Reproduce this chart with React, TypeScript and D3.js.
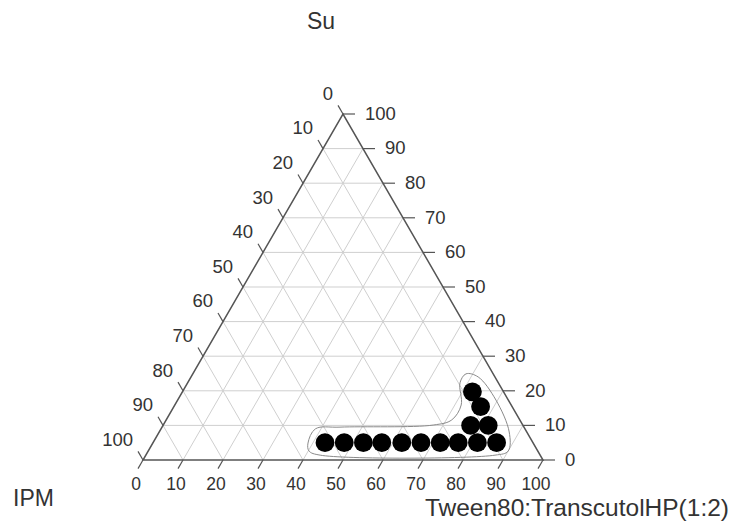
import { useEffect, useRef } from "react";
import * as d3 from "d3";

const TICKS = [0, 10, 20, 30, 40, 50, 60, 70, 80, 90, 100];

// observed points (Su %, Tween80:TranscutolHP %), IPM is the rest
const pointSu    = [5, 5, 5, 5, 5, 5, 5, 5, 5, 5, 10, 10, 15.4, 19.7];
const pointTween = [43, 47.8, 52.6, 57.2, 62.2, 67, 71.8, 76.3, 81.1, 85.9, 76.9, 81.3, 76.7, 72.5];

// hand-drawn region boundary
const outlineSu    = [4.9, 9, 9.5, 10.1, 11.6, 15.9, 22.3, 24.9, 24, 17.3, 8.1, 2.6, 1.4, 1.4, 2.6];
const outlineTween = [38.8, 38.6, 44.5, 67.5, 71.4, 71.6, 68.1, 68.3, 71.8, 79.6, 87.5, 90, 87.3, 43.6, 40.2];

const EDGE = "#555";
const GRID = "#cfcfcf";
const TEXT = "#333";
const FONT = "'Liberation Sans', Arial, sans-serif";

export default function App() {
  const svgRef = useRef<SVGSVGElement>(null);

  useEffect(() => {
    if (!svgRef.current) return;
    const W = 734, H = 529;
    const svg = d3.select(svgRef.current).attr("width", W).attr("height", H);
    svg.selectAll("*").remove();

    // base runs along Tween, height along Su
    const x = d3.scaleLinear().domain([0, 100]).range([143, 543]);
    const y = d3.scaleLinear().domain([0, 100]).range([460, 114]);
    const px = (su: number, tw: number) => x(tw + su / 2);
    const py = (su: number) => y(su);

    const g = svg.append("g");

    // grid
    for (const t of TICKS.slice(1, -1)) {
      // constant Su (horizontal)
      g.append("line")
        .attr("x1", px(t, 0)).attr("y1", py(t))
        .attr("x2", px(t, 100 - t)).attr("y2", py(t))
        .attr("stroke", GRID).attr("stroke-width", 1);
      // constant Tween (parallel to left edge)
      g.append("line")
        .attr("x1", px(0, t)).attr("y1", py(0))
        .attr("x2", px(100 - t, t)).attr("y2", py(100 - t))
        .attr("stroke", GRID).attr("stroke-width", 1);
      // constant IPM (parallel to right edge)
      g.append("line")
        .attr("x1", px(0, 100 - t)).attr("y1", py(0))
        .attr("x2", px(100 - t, 0)).attr("y2", py(100 - t))
        .attr("stroke", GRID).attr("stroke-width", 1);
    }

    // triangle
    const tri: [number, number][] = [[0, 0], [0, 100], [100, 0]];
    g.append("path")
      .attr("d", d3.line<[number, number]>().x(d => px(d[0], d[1])).y(d => py(d[0]))(tri) + "Z")
      .attr("fill", "none").attr("stroke", EDGE).attr("stroke-width", 1.5);

    const tl = 10;
    const cos60 = 0.5, sin60 = Math.sqrt(3) / 2;
    for (const t of TICKS) {
      // bottom: Tween
      const bx = px(0, t), by = py(0);
      g.append("line").attr("x1", bx).attr("y1", by)
        .attr("x2", bx - tl * cos60).attr("y2", by + tl * sin60)
        .attr("stroke", EDGE).attr("stroke-width", 1.2);
      g.append("text").attr("x", bx - 7).attr("y", by + 25)
        .attr("text-anchor", "middle").attr("dominant-baseline", "middle")
        .attr("font-size", 17.5).attr("fill", TEXT).attr("font-family", FONT)
        .text(t);

      // right: Su
      const rx = px(t, 100 - t), ry = py(t);
      g.append("line").attr("x1", rx).attr("y1", ry)
        .attr("x2", rx + 12).attr("y2", ry)
        .attr("stroke", EDGE).attr("stroke-width", 1.2);
      g.append("text").attr("x", rx + 22).attr("y", ry + 1)
        .attr("text-anchor", "start").attr("dominant-baseline", "middle")
        .attr("font-size", 18.5).attr("fill", TEXT).attr("font-family", FONT)
        .text(t);

      // left: IPM (0 at top)
      const lx = px(100 - t, 0), ly = py(100 - t);
      g.append("line").attr("x1", lx).attr("y1", ly)
        .attr("x2", lx - tl * cos60).attr("y2", ly - tl * sin60)
        .attr("stroke", EDGE).attr("stroke-width", 1.2);
      g.append("text").attr("x", lx - 10).attr("y", ly - 19)
        .attr("text-anchor", "end").attr("dominant-baseline", "middle")
        .attr("font-size", 18.5).attr("fill", TEXT).attr("font-family", FONT)
        .text(t);
    }

    // region outline
    const outline = outlineSu.map((s, i) => [s, outlineTween[i]] as [number, number]);
    g.append("path")
      .attr("d", d3.line<[number, number]>()
        .x(d => px(d[0], d[1])).y(d => py(d[0]))
        .curve(d3.curveCatmullRomClosed.alpha(0.5))(outline))
      .attr("fill", "none").attr("stroke", "#8a8a8a").attr("stroke-width", 1);

    // points
    g.selectAll("circle.pt")
      .data(pointSu.map((s, i) => ({ su: s, tw: pointTween[i] })))
      .join("circle")
      .attr("class", "pt")
      .attr("cx", d => px(d.su, d.tw)).attr("cy", d => py(d.su))
      .attr("r", 9.4).attr("fill", "#000");

    // axis titles
    svg.append("text").attr("x", 321).attr("y", 29)
      .attr("text-anchor", "middle").attr("font-size", 23)
      .attr("fill", TEXT).attr("font-family", FONT).text("Su");
    svg.append("text").attr("x", 13).attr("y", 506)
      .attr("text-anchor", "start").attr("font-size", 23)
      .attr("fill", TEXT).attr("font-family", FONT).text("IPM");
    svg.append("text").attr("x", 729).attr("y", 516)
      .attr("text-anchor", "end").attr("font-size", 24.5)
      .attr("fill", TEXT).attr("font-family", FONT).text("Tween80:TranscutolHP(1:2)");
  }, []);

  return (
    <svg ref={svgRef} style={{ position: "absolute", left: 0, top: 0, background: "#fff" }} />
  );
}
